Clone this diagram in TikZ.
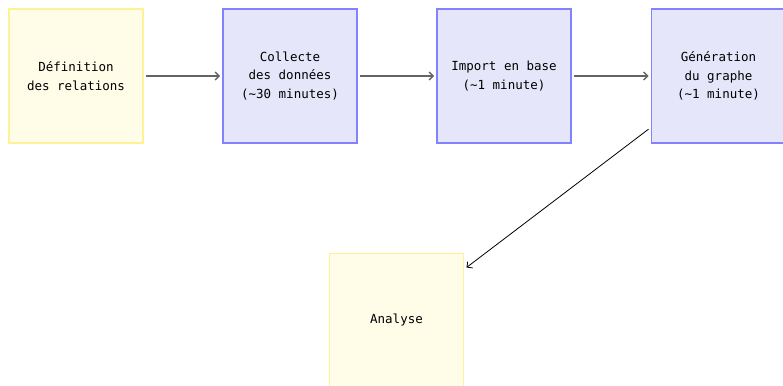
\documentclass[tikz,border=0pt]{standalone}
\usepackage{fontspec}
\setmonofont{DejaVu Sans Mono}
\usepackage{tikz}
\usetikzlibrary{arrows,arrows.meta,positioning}
\usepackage{xcolor}
\definecolor{stepfill}{RGB}{255,252,232}
\definecolor{stepline}{RGB}{255,242,150}
\definecolor{taskfill}{RGB}{230,230,250}
\definecolor{taskline}{RGB}{130,130,255}
\definecolor{flow}{RGB}{100,100,100}

\begin{document}
\begin{tikzpicture}[x=1pt,y=1pt,>={Straight Barb[length=4pt,width=8pt]},
    box/.style={draw,line width=1.5pt,minimum width=134pt,minimum height=134pt,
        align=center,outer sep=3pt,font=\ttfamily\fontsize{12.5}{18.3}\selectfont},
    stepbox/.style={box,draw=stepline,fill=stepfill},
    taskbox/.style={box,draw=taskline,fill=taskfill}]
    \useasboundingbox (0,0) rectangle (783,-385);
    \node[stepbox] (def) at (76,-76) {Définition\\des relations};
    \node[taskbox] (collect) at (290,-76) {Collecte\\des données\\(\textasciitilde30 minutes)};
    \node[taskbox] (import) at (504,-76) {Import en base\\(\textasciitilde1 minute)};
    \node[taskbox] (gen) at (718.5,-76) {Génération\\du graphe\\(\textasciitilde1 minute)};

    \node[stepbox] (analyse) at (396.5,-320.5) {Analyse};

    \draw[->,flow,line width=1.3pt] (def) -- (collect);
    \draw[->,flow,line width=1.3pt] (collect) -- (import);
    \draw[->,flow,line width=1.3pt] (import) -- (gen);
    \draw[->,line width=0.8pt] (gen) -- (analyse);
\end{tikzpicture}
\end{document}
